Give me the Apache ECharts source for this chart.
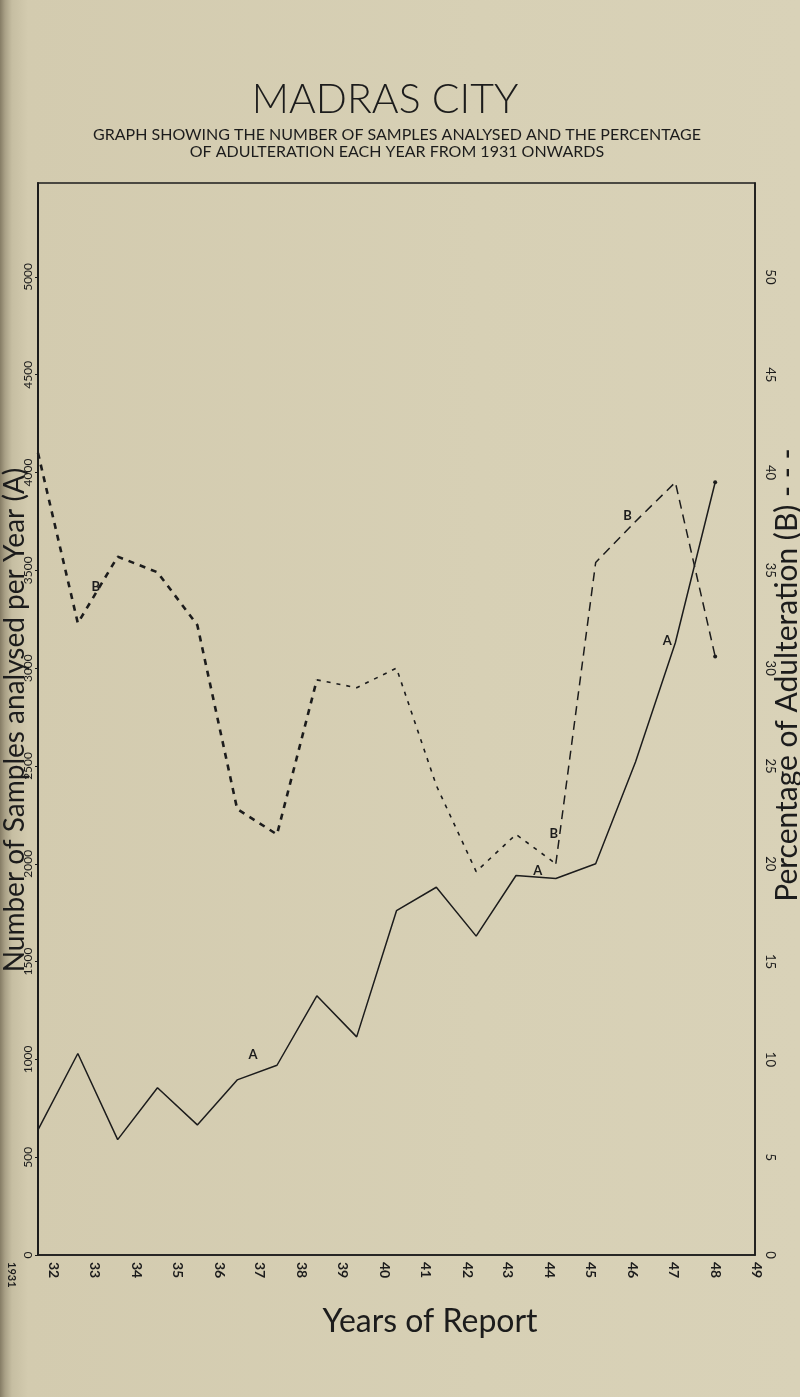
<!DOCTYPE html>
<html>
<head>
<meta charset="utf-8">
<script src="https://cdn.jsdelivr.net/npm/echarts@6/dist/echarts.min.js"></script>
<style>
html,body{margin:0;padding:0;}
body{width:800px;height:1397px;background:linear-gradient(to right,#857c65 0px,#a9a086 5px,#c6bea2 12px,#d3cbaf 28px,#d7d0b5 60%,#d9d2b8 100%);}
#chart{width:800px;height:1397px;}
</style>
</head>
<body>
<div id="chart"></div>
<script>
// Categories (years of report)
var years = ['1931','1932','1933','1934','1935','1936','1937','1938','1939','1940','1941','1942','1943','1944','1945','1946','1947','1948','1949'];
// (A) Number of samples analysed per year
var samplesA = [640, 1030, 590, 855, 665, 895, 970, 1325, 1115, 1760, 1880, 1630, 1940, 1925, 2000, 2520, 3130, 3950];
// (B) Percentage of adulteration
var adultB = [41.0, 32.3, 35.7, 34.9, 32.2, 22.8, 21.5, 29.4, 29.0, 30.0, 24.0, 19.6, 21.5, 20.0, 35.4, 37.5, 39.5, 30.6];
// Tick labels
var leftTicks = [0, 500, 1000, 1500, 2000, 2500, 3000, 3500, 4000, 4500, 5000];
var rightTicks = [0, 5, 10, 15, 20, 25, 30, 35, 40, 45, 50];

var ink = '#1c1c1c';
var hand = 'Lato, "DejaVu Sans", sans-serif';

function withEndDot(arr) {
  return arr.map(function (v, i) {
    if (i === arr.length - 1) return {value: v, symbol: 'circle', symbolSize: 4};
    return {value: v, symbol: 'none'};
  });
}
function segment(arr, from, to) {
  return arr.map(function (v, i) {
    var val = (i >= from && i <= to) ? v : null;
    if (i === arr.length - 1 && val !== null) return {value: val, symbol: 'circle', symbolSize: 4};
    return {value: val, symbol: 'none'};
  });
}
function tag(txt, yr, val, off) {
  return {coord: [yr, val], value: txt, symbol: 'rect', symbolSize: 1,
    itemStyle: {color: 'rgba(0,0,0,0)'},
    label: {show: true, formatter: txt, offset: off, color: ink, fontSize: 13, fontFamily: hand, fontWeight: 'bold'}};
}

// x labels in the hand-drawn original sit left of their ticks (more so on the left side)
var xRich = {};
years.forEach(function (y, i) {
  var d = Math.max(-2, Math.round(26 * (1 - i / 17)));
  xRich['r' + i] = {padding: [Math.max(0, 2 * d), 0, Math.max(0, -2 * d), 0], fontSize: i === 0 ? 11 : 14, fontWeight: 'bold', fontFamily: hand, color: ink};
});

var chart = echarts.init(document.getElementById('chart'), null, {renderer: 'canvas'});
chart.setOption({
  backgroundColor: 'transparent',
  animation: false,
  grid: {left: 38, right: 45, top: 183, bottom: 142, show: true, borderColor: ink, borderWidth: 1.6, backgroundColor: 'transparent'},
  graphic: [
    {type: 'text', x: 385, y: 100, style: {text: 'MADRAS CITY', fill: ink, font: '300 41px Lato, "DejaVu Sans", sans-serif', textAlign: 'center', textVerticalAlign: 'middle'}},
    {type: 'text', x: 397, y: 135, style: {text: 'GRAPH SHOWING THE NUMBER OF SAMPLES ANALYSED AND THE PERCENTAGE', fill: ink, font: '16px Lato, "DejaVu Sans", sans-serif', textAlign: 'center', textVerticalAlign: 'middle'}},
    {type: 'text', x: 397, y: 152, style: {text: 'OF ADULTERATION EACH YEAR FROM 1931 ONWARDS', fill: ink, font: '16px Lato, "DejaVu Sans", sans-serif', textAlign: 'center', textVerticalAlign: 'middle'}},
    {type: 'text', x: 15, y: 720, rotation: Math.PI / 2, style: {text: 'Number of Samples analysed per Year (A)', fill: ink, font: '28px Lato, "DejaVu Sans", sans-serif', textAlign: 'center', textVerticalAlign: 'middle'}},
    {type: 'text', x: 787, y: 675, rotation: Math.PI / 2, style: {text: 'Percentage of Adulteration (B) - - -', fill: ink, font: '30px Lato, "DejaVu Sans", sans-serif', textAlign: 'center', textVerticalAlign: 'middle'}},
    {type: 'text', x: 430, y: 1322, style: {text: 'Years of Report', fill: ink, font: '32px Lato, "DejaVu Sans", sans-serif', textAlign: 'center', textVerticalAlign: 'middle'}}
  ],
  xAxis: {
    type: 'category', data: years, boundaryGap: false,
    axisLine: {lineStyle: {color: ink, width: 1.6}},
    axisTick: {show: false},
    splitLine: {show: false},
    axisLabel: {rotate: -90, margin: 7, color: ink, fontSize: 14, fontWeight: 'bold', fontFamily: hand, rich: xRich,
      formatter: function (v, i) { return '{r' + i + '|' + (i === 0 ? v : v.slice(2)) + '}'; }}
  },
  yAxis: [
    {type: 'value', min: 0, max: 5480, interval: 500, position: 'left',
      axisLine: {show: true, lineStyle: {color: ink, width: 2}},
      axisTick: {show: true, length: 3, lineStyle: {color: ink}},
      splitLine: {show: false},
      axisLabel: {showMaxLabel: false, rotate: 90, margin: 4, color: ink, fontSize: 12, fontFamily: hand,
        formatter: function (v) { return leftTicks.indexOf(v) >= 0 ? String(v) : ''; }}},
    {type: 'value', min: 0, max: 54.8, interval: 5, position: 'right',
      axisLine: {show: true, lineStyle: {color: ink, width: 1.6}},
      axisTick: {show: false},
      splitLine: {show: false},
      axisLabel: {showMaxLabel: false, rotate: -90, margin: 9, color: ink, fontSize: 13, fontFamily: hand,
        formatter: function (v) { return rightTicks.indexOf(v) >= 0 ? String(v) : ''; }}}
  ],
  series: [
    {name: 'A', type: 'line', yAxisIndex: 0, data: withEndDot(samplesA), showSymbol: true,
      lineStyle: {color: ink, width: 1.5}, itemStyle: {color: ink},
      markPoint: {data: [tag('A', '1937', samplesA[6], [-24, -10]), tag('A', '1944', samplesA[13], [-18, -8]), tag('A', '1947', samplesA[16], [-8, -2])]}},
    {name: 'B1', type: 'line', yAxisIndex: 1, data: segment(adultB, 0, 7), showSymbol: true,
      lineStyle: {color: ink, width: 2.6, type: [6, 6]}, itemStyle: {color: ink},
      markPoint: {data: [tag('B', '1933', adultB[2], [-22, 30])]}},
    {name: 'B2', type: 'line', yAxisIndex: 1, data: segment(adultB, 7, 13), showSymbol: true,
      lineStyle: {color: ink, width: 1.6, type: [4, 6]}, itemStyle: {color: ink},
      markPoint: {data: [tag('B', '1944', adultB[13], [-2, -30])]}},
    {name: 'B3', type: 'line', yAxisIndex: 1, data: segment(adultB, 13, 17), showSymbol: true,
      lineStyle: {color: ink, width: 1.5, type: [9, 6]}, itemStyle: {color: ink},
      markPoint: {data: [tag('B', '1946', adultB[15], [-8, -6])]}}
  ]
});
</script>
</body>
</html>
